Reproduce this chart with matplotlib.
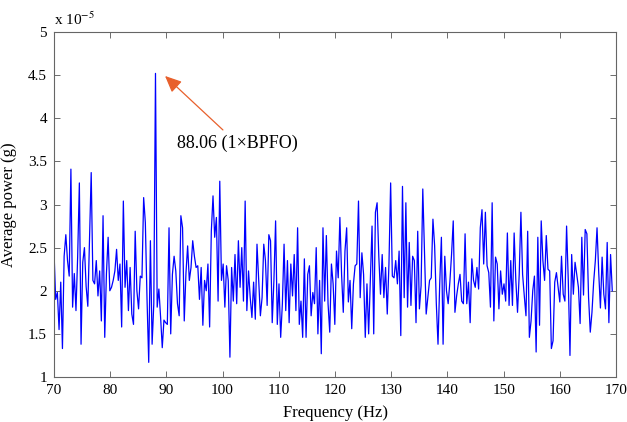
import numpy as np
import matplotlib
matplotlib.use("Agg")
import matplotlib.pyplot as plt

plt.rcParams['font.family'] = ['Liberation Serif', 'DejaVu Serif']
plt.rcParams['mathtext.fontset'] = 'stix'

# spectrum bins start at 70 Hz, 0.301 Hz apart (bin 60 = 88.06 Hz)
f0 = 70.0
df = 0.301

# average power, units of 1e-5 g, in 10 Hz-ish chunks
p_70 = [2.46, 1.90, 1.98, 1.55, 2.10, 1.33, 2.40, 2.65, 2.35, 2.17,
        3.41, 1.81, 2.20, 1.77, 2.40, 3.25, 1.38, 2.33, 2.50, 2.05,
        1.82, 2.60, 3.37, 2.12, 2.08, 2.35, 1.94, 2.23, 1.65, 2.87]
p_79 = [1.46, 2.20, 2.62, 2.00, 2.04, 2.12, 2.23, 2.48, 2.12, 2.31,
        1.58, 3.04, 2.04, 2.35, 1.77, 2.27, 1.73, 1.61, 2.69, 2.00,
        1.79, 2.17, 2.15, 3.08, 2.79, 1.90, 1.17, 2.58, 1.38, 1.85]
p_88 = [4.52, 1.81, 2.02, 1.70, 1.34, 1.66, 1.63, 1.61, 2.73, 1.50,
        2.19, 2.40, 2.23, 1.85, 1.71, 2.87, 2.73, 1.65, 2.20, 2.52,
        2.12, 2.27, 2.58, 2.40, 2.27, 2.29, 1.90, 2.27, 1.60, 2.12,
        2.00, 2.31, 1.58, 2.69, 3.10, 2.62, 2.85, 1.88, 3.27, 2.12]
p_100 = [2.31, 1.81, 2.29, 2.12, 1.23, 2.27, 1.88, 2.42, 1.85, 2.58,
         2.04, 2.50, 1.88, 3.04, 1.77, 2.23, 1.92, 1.69, 2.10, 1.67,
         2.54, 2.12, 1.71, 1.92, 2.54, 2.35, 1.83, 2.65, 2.58, 1.63,
         2.12, 2.81, 1.61, 2.08, 1.46, 1.85]
p_111 = [2.54, 1.77, 2.35, 1.63, 2.31, 1.94, 2.42, 1.77, 2.73, 1.61,
         1.88, 1.46, 2.37, 1.46, 2.19, 2.29, 1.71, 1.98, 1.85, 2.50,
         1.50, 2.12, 1.27, 2.73, 1.88, 2.64, 1.85, 1.52, 2.31, 2.08,
         1.61, 2.46, 2.15, 2.85]
p_121 = [2.19, 1.75, 2.46, 2.73, 1.87, 2.12, 1.56, 2.08, 2.29, 2.31,
         3.04, 1.92, 2.44, 2.19, 1.46, 2.08, 1.50, 2.12, 2.75, 1.50,
         2.91, 3.02, 2.40, 1.96, 2.42, 1.92, 2.27, 1.73, 2.31, 3.25,
         2.17, 2.15, 2.35, 2.08, 2.46, 1.48]
p_132 = [3.21, 1.92, 3.02, 1.81, 2.56, 1.83, 2.40, 2.35, 1.63, 2.69,
         1.79, 2.06, 3.18, 2.46, 1.73, 1.92, 2.12, 2.15, 2.83, 2.52,
         1.85, 1.38, 2.08, 2.62, 1.38, 2.40, 2.00, 1.85, 2.10, 2.42,
         2.81, 1.75, 1.94, 2.08, 2.19, 1.88]
p_143 = [1.85, 2.66, 1.85, 2.10, 1.63, 2.37, 2.12, 2.04, 2.27, 2.02,
         2.73, 2.94, 2.31, 2.91, 2.29, 2.21, 1.81, 3.02, 1.65, 2.39,
         2.31, 1.79, 2.23, 1.96, 2.08, 1.88, 2.67, 1.83, 2.35, 1.83,
         2.67, 2.12, 1.75, 2.19]
p_153 = [2.91, 2.19, 1.94, 1.71, 2.69, 1.46, 1.65, 2.00, 2.17, 1.29,
         2.62, 1.60, 2.81, 2.35, 2.12, 2.64, 2.25, 2.23, 1.33, 1.42,
         2.10, 2.21, 2.04, 1.87, 2.40, 1.96, 1.88, 2.75, 2.12, 1.25,
         2.42, 1.96, 2.33, 2.19]
p_163 = [2.04, 1.62, 2.62, 1.95, 2.71, 2.66, 1.92, 1.52, 1.75, 2.10,
         2.35, 2.73, 2.21, 1.80, 2.39, 1.96, 1.79, 2.56, 1.63, 2.42,
         2.00]

power = np.array(p_70 + p_79 + p_88 + p_100 + p_111 + p_121 + p_132
                 + p_143 + p_153 + p_163)
freq = f0 + df * np.arange(len(power))

peak_f = 88.06
peak_label = '88.06 (1\u00d7BPFO)'

fig = plt.figure(figsize=(6.27, 4.22), dpi=100)
ax = fig.add_axes([0.0861, 0.1066, 0.8964, 0.8176])

ax.plot(freq, power, color='#0000ff', lw=0.9)

ax.set_xlim(70, 170)
ax.set_ylim(1, 5)
ax.set_xticks(np.arange(70, 171, 10))
ax.set_yticks([1, 1.5, 2, 2.5, 3, 3.5, 4, 4.5, 5])
ax.set_yticklabels(['1', '1.5', '2', '2.5', '3', '3.5', '4', '4.5', '5'])
ax.tick_params(direction='in', top=True, right=True, length=4,
               width=0.6, color='#555555', labelsize=11, pad=5)
for s in ax.spines.values():
    s.set_color('#666666')
    s.set_linewidth(0.8)

ax.set_xlabel('Frequency (Hz)', fontsize=12, labelpad=6)
ax.set_ylabel('Average power (g)', fontsize=12, labelpad=8)
ax.text(0.0, 1.012, r'x 10$^{-5}$', transform=ax.transAxes,
        fontsize=11, ha='left', va='bottom')

# arrow from the label up to the BPFO peak
ipk = int(np.argmin(np.abs(freq - peak_f)))
ax.annotate(peak_label, xy=(freq[ipk] + 1.7, power[ipk] - 0.03),
            xytext=(102.6, 3.71), fontsize=13, ha='center', va='center',
            arrowprops=dict(arrowstyle='-|>,head_length=1.0,head_width=0.45',
                            color='#e8602c', lw=0.9, shrinkA=2, shrinkB=0,
                            mutation_scale=10))

fig.savefig('out.png', dpi=100)
